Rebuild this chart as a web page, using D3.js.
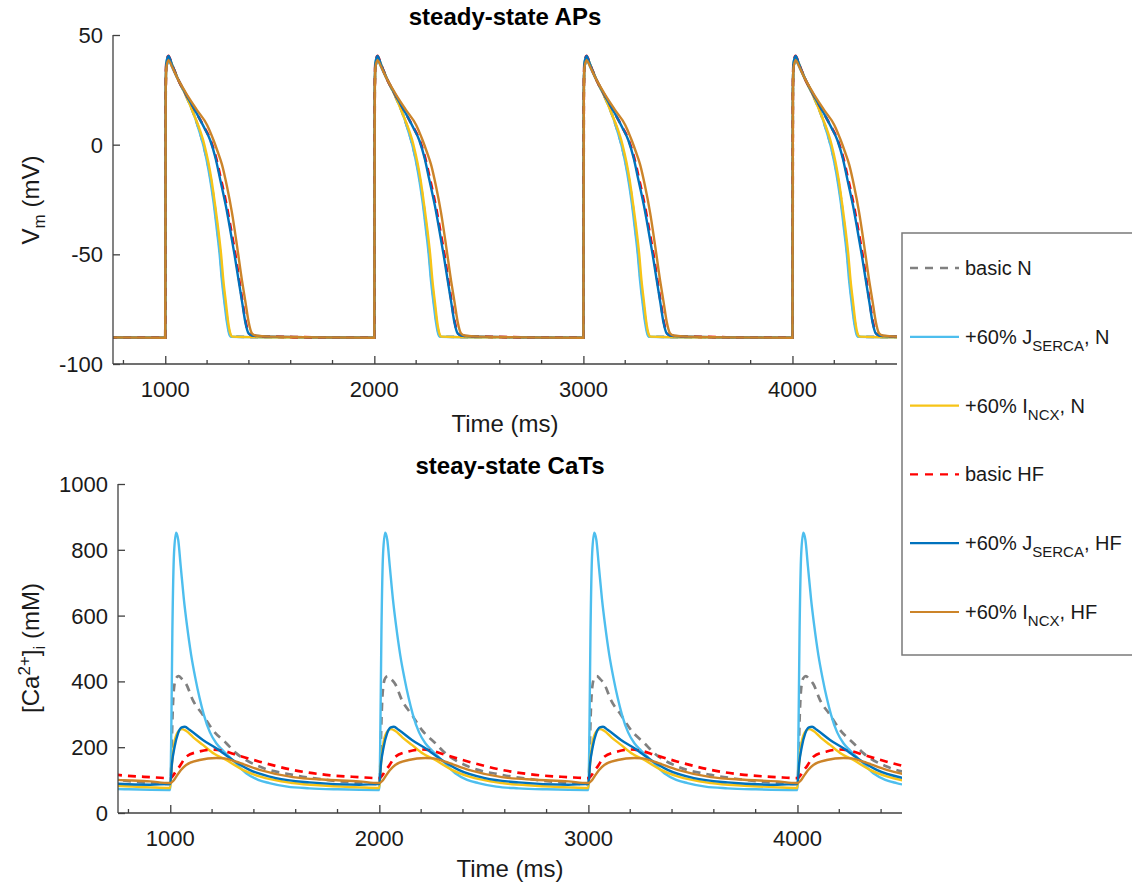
<!DOCTYPE html>
<html>
<head>
<meta charset="utf-8">
<script src="https://cdn.jsdelivr.net/npm/d3@7"></script>
<style>
  body { margin: 0; background: #fff; }
  svg { font-family: "Liberation Sans", Arial, sans-serif; }
  .axis path, .axis line { stroke: #404040; stroke-width: 1.3; }
  .axis text { fill: #1a1a1a; font-size: 22px; }
  .label { fill: #1a1a1a; font-size: 24px; }
  .title { fill: #000; font-size: 24px; font-weight: bold; }
  .legend text { fill: #1a1a1a; font-size: 20px; }
</style>
</head>
<body>
<div id="chart"></div>
<script>
// one steady-state beat per trace: [ms after stimulus, value]
var beats = [0, 1000, 2000, 3000, 4000];
var xTicks = [1000, 2000, 3000, 4000];
var xMinorTicks = [800, 1200, 1400, 1600, 1800, 2200, 2400, 2600, 2800, 3200, 3400, 3600, 3800, 4200, 4400];
var apTicks = [-100, -50, 0, 50];
var caTicks = [0, 200, 400, 600, 800, 1000];

var apBasicN = [[0,-88],[2,22],[5,36],[15,40],[30,37],[60,30],[96,23],[136,14],[185,-1],[202,-8],[218,-16],[235,-27],[250,-39],[263,-50],[274,-62],[286,-72],[298,-81],[308,-86],[318,-87.5],[500,-87.8],[995,-88]];
var apSercaN = [[0,-88],[2,22],[5,36],[10,40],[14,37],[20,39],[30,36],[60,30],[96,23],[136,14],[160,7],[184,-1],[200,-8],[215,-16],[232,-27],[247,-39],[260,-50],[271,-62],[283,-72],[295,-81],[305,-86],[315,-87.6],[500,-87.8],[995,-88]];
var apNcxN = [[0,-88],[2,20],[5,36],[15,40],[30,37],[60,30],[96,23],[136,14],[187,0],[206,-8],[221,-16],[239,-28],[254,-39],[267,-50],[278,-62],[290,-72],[301,-81],[311,-86],[321,-87.5],[500,-87.8],[995,-88]];
var apBasicHF = [[0,-88],[2,25],[5,37],[15,40.5],[30,37],[60,30],[96,23.5],[152,14],[186,8],[217,2],[243,-6],[267,-16],[294,-28],[315,-39],[335,-50],[354,-62],[370,-72],[385,-81],[400,-86],[417,-87],[500,-87.5],[995,-88]];
var apSercaHF = [[0,-88],[2,25],[5,37],[15,40.5],[30,37],[60,30],[96,23.5],[152,14],[185,8],[215,2],[240,-6],[263,-16],[290,-28],[311,-39],[331,-50],[351,-62],[368,-72],[383,-81],[398,-86],[415,-87],[500,-87.5],[995,-88]];
var apNcxHF = [[0,-88],[2,25],[5,35],[15,38.5],[30,36],[60,30],[96,24],[150,16],[200,9],[231,2],[250,-3],[271,-9],[295,-19],[319,-31],[343,-46],[367,-62],[384,-72],[399,-81],[414,-86],[431,-87],[500,-87.5],[995,-88]];

var caBasicN = [[0,88],[5,150],[10,280],[18,380],[28,410],[40,416],[55,408],[76,392],[108,343],[156,298],[204,252],[268,212],[315,182],[427,141],[586,116],[745,101],[904,91],[995,88]];
var caSercaN = [[0,70],[4,200],[10,550],[18,790],[28,852],[38,830],[50,750],[65,650],[80,570],[100,480],[120,410],[140,350],[160,300],[190,245],[220,212],[252,190],[300,160],[363,121],[420,101],[474,91],[560,80],[666,75],[800,72],[995,70]];
var caNcxN = [[0,76],[8,150],[20,215],[35,245],[55,255],[75,250],[110,230],[156,207],[210,180],[268,161],[347,131],[427,111],[586,91],[745,83],[904,78],[995,76]];
var caBasicHF = [[0,106],[15,115],[30,130],[44,141],[76,171],[140,187],[200,193],[260,188],[315,177],[427,156],[586,131],[745,116],[904,109],[995,106]];
var caSercaHF = [[0,88],[8,150],[21,202],[37,242],[55,260],[70,262],[92,253],[156,222],[220,197],[299,161],[379,131],[506,106],[666,93],[904,86],[995,88]];
var caNcxHF = [[0,91],[15,98],[29,111],[50,130],[76,146],[140,161],[220,167],[260,166],[315,156],[427,131],[586,109],[745,101],[904,96],[995,91]];

var series = [
  { name: "basic N", color: "#808080", dash: "8,6", ap: apBasicN, ca: caBasicN },
  { name: "+60% J", sub: "SERCA", tail: ", N", color: "#4DBEEE", ap: apSercaN, ca: caSercaN },
  { name: "+60% I", sub: "NCX", tail: ", N", color: "#F7C417", ap: apNcxN, ca: caNcxN },
  { name: "basic HF", color: "#FF0000", dash: "8,6", ap: apBasicHF, ca: caBasicHF },
  { name: "+60% J", sub: "SERCA", tail: ", HF", color: "#0072BD", ap: apSercaHF, ca: caSercaHF },
  { name: "+60% I", sub: "NCX", tail: ", HF", color: "#CC8429", ap: apNcxHF, ca: caNcxHF }
];

var svg = d3.select("#chart").append("svg")
  .attr("width", 1132)
  .attr("height", 888);

var tile = function(beat) {
  return beats.reduce(function(acc, b) {
    return acc.concat(beat.map(function(p) { return [b + p[0], p[1]]; }));
  }, []);
};

var panel = function(cfg) {
  var x = d3.scaleLinear().domain([750, 4500]).range([cfg.left, cfg.right]);
  var y = d3.scaleLinear().domain(cfg.domain).range([cfg.bottom, cfg.top]);

  svg.append("clipPath").attr("id", cfg.id)
    .append("rect")
    .attr("x", cfg.left).attr("y", cfg.top - 5)
    .attr("width", cfg.right - cfg.left).attr("height", cfg.bottom - cfg.top + 5);

  var line = d3.line()
    .x(function(d) { return x(d[0]); })
    .y(function(d) { return y(d[1]); })
    .curve(d3.curveMonotoneX);

  svg.append("g").attr("clip-path", "url(#" + cfg.id + ")")
    .selectAll("path")
    .data(series)
    .enter()
    .append("path")
    .attr("fill", "none")
    .attr("stroke", function(d) { return d.color; })
    .attr("stroke-width", function(d) { return d.dash ? 2.7 : 2.4; })
    .attr("stroke-dasharray", function(d) { return d.dash || null; })
    .attr("d", function(d) { return line(tile(d[cfg.key])); });

  var xAxis = svg.append("g").attr("class", "axis")
    .attr("transform", "translate(0," + cfg.bottom + ")")
    .call(d3.axisTop(x).tickValues(xTicks).tickSize(8).tickFormat(""));
  xAxis.select(".domain").attr("d", "M" + cfg.left + ",0H" + cfg.right);
  xAxis.selectAll(".minor")
    .data(xMinorTicks)
    .enter()
    .append("line")
    .attr("class", "minor")
    .attr("x1", function(d) { return x(d); })
    .attr("x2", function(d) { return x(d); })
    .attr("y1", 0)
    .attr("y2", -4);
  xAxis.selectAll(".ticklabel")
    .data(xTicks)
    .enter()
    .append("text")
    .attr("class", "ticklabel")
    .attr("x", function(d) { return x(d); })
    .attr("y", 33)
    .attr("text-anchor", "middle")
    .text(function(d) { return d; });

  var yAxis = svg.append("g").attr("class", "axis")
    .attr("transform", "translate(" + cfg.left + ",0)")
    .call(d3.axisRight(y).tickValues(cfg.ticks).tickSize(7).tickFormat(""));
  yAxis.select(".domain").attr("d", "M0," + cfg.top + "V" + cfg.bottom);
  yAxis.selectAll(".ticklabel")
    .data(cfg.ticks)
    .enter()
    .append("text")
    .attr("class", "ticklabel")
    .attr("x", -10)
    .attr("y", function(d) { return y(d); })
    .attr("dy", "0.36em")
    .attr("text-anchor", "end")
    .text(function(d) { return d; });

  svg.append("text").attr("class", "label")
    .attr("x", (cfg.left + cfg.right) / 2)
    .attr("y", cfg.bottom + cfg.xlabelGap)
    .attr("text-anchor", "middle")
    .text("Time (ms)");

  svg.append("text").attr("class", "title")
    .attr("x", (cfg.left + cfg.right) / 2)
    .attr("y", cfg.top - 10)
    .attr("text-anchor", "middle")
    .text(cfg.title);

  var yl = svg.append("text").attr("class", "label")
    .attr("transform", "translate(39," + cfg.labelY + ") rotate(-90)")
    .attr("text-anchor", "middle");
  cfg.ylabel(yl);
};

panel({
  id: "clipAP", key: "ap", left: 113, right: 897, top: 35, bottom: 364,
  domain: [-100, 50], ticks: apTicks, title: "steady-state APs", labelY: 200,
  xlabelGap: 68,
  ylabel: function(t) {
    t.append("tspan").text("V");
    t.append("tspan").attr("font-size", "17px").attr("dy", 6).text("m");
    t.append("tspan").attr("dy", -6).text(" (mV)");
  }
});

panel({
  id: "clipCA", key: "ca", left: 118, right: 902, top: 484, bottom: 813,
  domain: [0, 1000], ticks: caTicks, title: "steay-state CaTs", labelY: 648,
  xlabelGap: 64,
  ylabel: function(t) {
    t.append("tspan").text("[Ca");
    t.append("tspan").attr("font-size", "17px").attr("dy", -9).text("2+");
    t.append("tspan").attr("dy", 9).text("]");
    t.append("tspan").attr("font-size", "17px").attr("dy", 6).text("i");
    t.append("tspan").attr("dy", -6).text(" (mM)");
  }
});

// legend
var legend = svg.append("g").attr("class", "legend");
legend.append("rect")
  .attr("x", 902).attr("y", 233)
  .attr("width", 260).attr("height", 422)
  .attr("fill", "#fff")
  .attr("stroke", "#7a7a7a")
  .attr("stroke-width", 1.5);

var legendY = d3.scaleLinear().domain([0, 5]).range([268, 612]);
var items = legend.selectAll(".item")
  .data(series)
  .enter()
  .append("g")
  .attr("class", "item")
  .attr("transform", function(d, i) { return "translate(0," + legendY(i) + ")"; });
items.append("line")
  .attr("x1", 910).attr("x2", 959)
  .attr("stroke", function(d) { return d.color; })
  .attr("stroke-width", function(d) { return d.dash ? 2.4 : 2.2; })
  .attr("stroke-dasharray", function(d) { return d.dash ? "8,7" : null; });
items.each(function(d) {
  var t = d3.select(this).append("text").attr("x", 965).attr("y", 7);
  t.append("tspan").text(d.name);
  if (d.sub) {
    t.append("tspan").attr("font-size", "15px").attr("dy", 7).text(d.sub);
    t.append("tspan").attr("dy", -7).text(d.tail);
  }
});
</script>
</body>
</html>
